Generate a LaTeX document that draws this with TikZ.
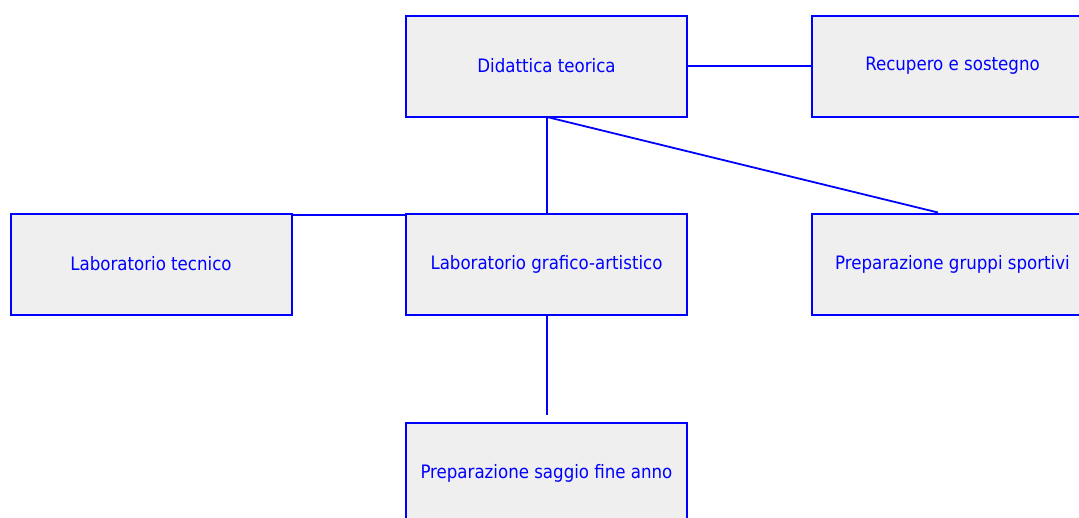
\documentclass[tikz,border=0pt]{standalone}
\usepackage{fontspec}
\setmainfont{DejaVu Sans Condensed}
\definecolor{boxfill}{HTML}{EFEFEF}
\definecolor{linecol}{HTML}{0000FF}
\tikzset{
  box/.style={draw=linecol, line width=2pt, fill=boxfill, minimum width=281pt, minimum height=101pt,
    inner sep=0pt, anchor=north west, text=linecol, font=\fontsize{18.5}{20}\selectfont},
  link/.style={draw=linecol, line width=1.8pt}
}
\begin{document}
\begin{tikzpicture}[x=1pt,y=-1pt]
\useasboundingbox (0,0) rectangle (1079,517);
\clip (0,0) rectangle (1079,517);
\node[box] (did) at (405,14.5) {Didattica teorica};
\node[box] (rec) at (811,14.5) {Recupero e sostegno};
\node[box] (tec) at (9.5,212.5) {Laboratorio tecnico};
\node[box] (gra) at (405,212.5) {Laboratorio grafico-artistico};
\node[box] (gru) at (811,212.5) {Preparazione gruppi sportivi};
\node[box] (sag) at (405,421.5) {Preparazione saggio fine anno};
\coordinate (sagend) at (547,415);
\coordinate (didb) at (547,117);
\draw[link] (did.east) -- (rec.west);
\draw[link] (didb) -- (gra.north -| didb);
\draw[link] (didb) -- (gru.north -| 938,0);
\draw[link] ([yshift=-2.5pt]tec.north east) -- ([yshift=-2.5pt]gra.north west);
\draw[link] (gra.south -| sagend) -- (sagend);
\end{tikzpicture}
\end{document}
